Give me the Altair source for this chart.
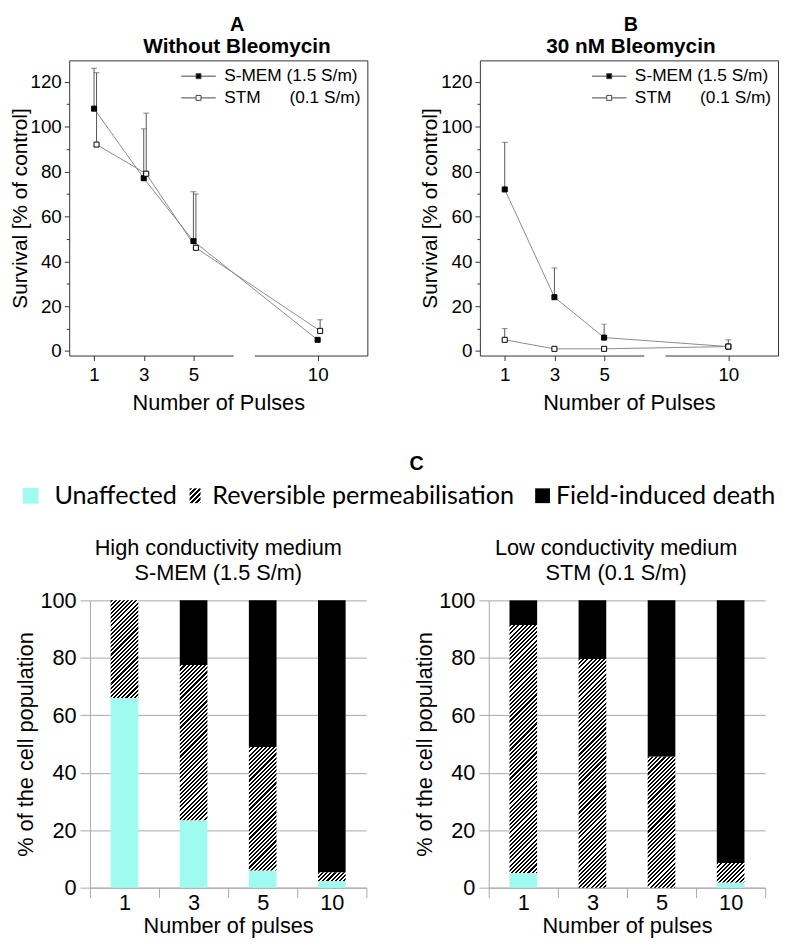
import altair as alt
import pandas as pd

# ---------------- data ----------------
pulses = [1, 3, 5, 10]
series_names = ["S-MEM (1.5 S/m)", "STM (0.1 S/m)"]

# Panel A: without bleomycin (mean survival, upper end of error bar)
a_smem = [108, 77, 49, 5]
a_smem_hi = [126, 99, 71, 5]
a_stm = [92, 79, 46, 9]
a_stm_hi = [124, 106, 70, 14]

# Panel B: 30 nM bleomycin
b_smem = [72, 24, 6, 2]
b_smem_hi = [93, 37, 12, 2]
b_stm = [5, 1, 1, 2]
b_stm_hi = [10, 1, 1, 5]

# Panel C: % of the cell population
pulse_labels = ["1", "3", "5", "10"]
states = ["Unaffected", "Reversible permeabilisation", "Field-induced death"]
smem_unaffected = [66, 23.5, 6, 2.3]
smem_reversible = [34, 54, 43, 3]
smem_death = [0, 22.5, 51, 94.7]
stm_unaffected = [5.1, 0, 0, 1.8]
stm_reversible = [86.3, 79.6, 45.6, 6.8]
stm_death = [8.6, 20.4, 54.4, 91.4]

# ---------------- style ----------------
ARIAL = "Liberation Sans"
CAL = "Lato"
FRAME = "#333333"
LINE = "#8a8a8a"
CYAN = "#9ffaef"
GRID = "#a8a8a8"
TOP_W, TOP_H = 302, 299
BOT_W, BOT_H = 280, 291
BAR_W = 28
STM_SHIFT_A = 0.1          # small horizontal offset of STM points in panel A
AXIS_BREAK = (6.62, 7.47)  # visual break of the bottom axis line
SYMBOL = "M-1,0H-0.15M0.15,0H1M-0.143,-0.143H0.143V0.143H-0.143Z"


def hatch(w, h, period=4.2, frac=0.5):
    """Diagonal '/' hatch as a hard-stop linear gradient for a w x h rect."""
    w = max(w, 1.0)
    h = max(h, 1.0)
    k = (w + h) / (w * w + h * h)
    n = (w + h) / period
    stops = []
    i = 0
    while i < n:
        a = round(i / n, 5)
        b = round(min((i + frac) / n, 1.0), 5)
        c = round(min((i + 1) / n, 1.0), 5)
        stops += [alt.GradientStop(offset=a, color="black"),
                  alt.GradientStop(offset=b, color="black"),
                  alt.GradientStop(offset=b, color="white"),
                  alt.GradientStop(offset=c, color="white")]
        i += 1
    return alt.LinearGradient(gradient="linear", x1=0, y1=0,
                              x2=round(k * w, 5), y2=round(k * h, 5), stops=stops)


def survival_panel(smem, smem_hi, stm, stm_hi, letter, subtitle, shift, title_dx):
    df = pd.DataFrame({
        "pulses": pulses + pulses,
        "series": [series_names[0]] * 4 + [series_names[1]] * 4,
        "survival": smem + stm,
        "upper": smem_hi + stm_hi,
    })
    base = alt.Chart(df).transform_calculate(
        xpos=f"datum.pulses + (datum.series === '{series_names[1]}' ? {shift} : 0)"
    )
    xs = alt.Scale(domain=[0, 12], nice=False, zero=False)
    ys = alt.Scale(domain=[-2, 129.5], nice=False, zero=False)
    x_axis = alt.Axis(values=pulses, title="Number of Pulses", domain=False, grid=False,
                      tickSize=5, tickColor=FRAME, labelFont=ARIAL, labelFontSize=19,
                      labelColor="black", labelPadding=5, titleFont=ARIAL, titleFontSize=22,
                      titleFontWeight="normal", titleColor="black", titlePadding=9)
    y_axis = alt.Axis(values=list(range(0, 121, 10)),
                      labelExpr="datum.value % 20 === 0 ? datum.label : ''",
                      tickSize={"condition": {"test": "datum.value % 20 === 0", "value": 5}, "value": 3},
                      domain=False, grid=False, tickColor=FRAME, labelFont=ARIAL,
                      labelFontSize=19, labelColor="black", labelPadding=3,
                      title="Survival [% of control]", titleFont=ARIAL, titleFontSize=21,
                      titleFontWeight="normal", titleColor="black", titlePadding=0)
    x = alt.X("xpos:Q", scale=xs, axis=x_axis)
    y = alt.Y("survival:Q", scale=ys, axis=y_axis)

    brk = alt.Chart(pd.DataFrame({"b0": [AXIS_BREAK[0]], "b1": [AXIS_BREAK[1]]})).mark_rule(
        color="white", strokeWidth=3
    ).encode(x=alt.X("b0:Q", scale=xs, axis=x_axis), x2="b1:Q", y=alt.value(TOP_H))

    lines = base.mark_line(color=LINE, strokeWidth=1).encode(x=x, y=y, detail="series:N")
    err = base.mark_rule(color="#555555", strokeWidth=1).encode(x=x, y=y, y2="upper:Q")
    caps = base.mark_tick(orient="horizontal", size=6, thickness=1, color="#555555").encode(
        x=x, y=alt.Y("upper:Q", scale=ys, axis=y_axis))
    pts = base.mark_point(shape="square", size=26, filled=True, stroke="black",
                          strokeWidth=1, opacity=1).encode(
        x=x, y=y,
        fill=alt.Fill("series:N", scale=alt.Scale(domain=series_names, range=["black", "white"]),
                      legend=alt.Legend(
                          title=None, orient="top-right", offset=6, symbolType=SYMBOL,
                          symbolSize=1225, symbolStrokeWidth=1, symbolStrokeColor="#444444",
                          clipHeight=20, rowPadding=2, labelOffset=8, labelFont=ARIAL,
                          labelFontSize=17.5, labelColor="black",
                          labelExpr=("datum.label === 'STM (0.1 S/m)' ? "
                                     "'STM\u00a0\u00a0\u00a0\u00a0\u00a0\u00a0(0.1 S/m)' : datum.label"))))
    return alt.layer(brk, lines, err, caps, pts).properties(
        width=TOP_W, height=TOP_H,
        view=alt.ViewBackground(stroke=FRAME, strokeWidth=1),
        title=alt.Title(letter, subtitle=subtitle, font=ARIAL, fontSize=20, fontWeight="bold",
                        color="black", subtitleFont=ARIAL, subtitleFontSize=21,
                        subtitleFontWeight="bold", subtitleColor="black", anchor="middle",
                        dx=title_dx, offset=3, subtitlePadding=2),
    )


def population_panel(unaff, rev, death, title_lines, title_dx):
    df = pd.DataFrame({
        "pulses": pulse_labels * 3,
        "state": [states[0]] * 4 + [states[1]] * 4 + [states[2]] * 4,
        "order": [0] * 4 + [1] * 4 + [2] * 4,
        "pct": unaff + rev + death,
    })
    base = alt.Chart(df).transform_stack(
        stack="pct", groupby=["pulses"], as_=["y0", "y1"],
        sort=[alt.SortField("order", order="ascending")])
    x_axis = alt.Axis(title="Number of pulses", labelAngle=0, tickBand="extent", tickSize=10,
                      tickColor=GRID, domainColor=GRID, grid=False, labelFont=ARIAL,
                      labelFontSize=22, labelColor="black", labelPadding=-5, titleFont=ARIAL,
                      titleFontSize=22, titleFontWeight="normal", titleColor="black",
                      titlePadding=2)
    y_axis = alt.Axis(values=[0, 20, 40, 60, 80, 100], title="% of the cell population",
                      tickSize=10, tickColor=GRID, domainColor=GRID, grid=True, gridColor=GRID,
                      labelFont=ARIAL, labelFontSize=22, labelColor="black", labelPadding=4,
                      titleFont=ARIAL, titleFontSize=22, titleFontWeight="normal",
                      titleColor="black", titlePadding=2)
    x = alt.X("pulses:N", sort=pulse_labels,
              scale=alt.Scale(paddingInner=0, paddingOuter=0), axis=x_axis)
    y = alt.Y("y0:Q", scale=alt.Scale(domain=[0, 100], nice=False), axis=y_axis)
    solid = base.transform_filter(alt.datum.state != states[1]).mark_bar(size=BAR_W).encode(
        x=x, y=y, y2="y1:Q",
        color=alt.Color("state:N", scale=alt.Scale(domain=[states[0], states[2]],
                                                    range=[CYAN, "black"]), legend=None))
    layers = [solid]
    for p, v in zip(pulse_labels, rev):
        layers.append(
            base.transform_filter((alt.datum.state == states[1]) & (alt.datum.pulses == p))
            .mark_bar(size=BAR_W, fill=hatch(BAR_W, v / 100.0 * BOT_H))
            .encode(x=x, y=y, y2="y1:Q"))
    return alt.layer(*layers).properties(
        width=BOT_W, height=BOT_H,
        title=alt.Title(title_lines, font=ARIAL, fontSize=22, fontWeight="normal",
                        color="black", anchor="middle", dx=title_dx, offset=5, lineHeight=25),
    )


# ---------------- legend row (panel C) ----------------
# positions are pixels relative to this row's view, whose left edge lines up
# with the left edge of panel A's plot area
LEG_W, LEG_H = 700, 124
leg_df = pd.DataFrame({"state": states})
leg_box = [(-47, -31), (122, 133), (472, 487)]
leg_text_x = [-15, 145, 493]
leg_cy = 82
leg_half = [8, 7.5, 7.5]
leg_fill = [CYAN, hatch(11, 15, period=5.0), "black"]
leg_layers = []
for s, (x0, x1), tx, f, hh in zip(states, leg_box, leg_text_x, leg_fill, leg_half):
    sub = alt.Chart(leg_df).transform_filter(alt.datum.state == s)
    leg_layers.append(sub.mark_rect(fill=f).encode(
        x=alt.value(x0), x2=alt.value(x1), y=alt.value(leg_cy - hh), y2=alt.value(leg_cy + hh)))
    leg_layers.append(sub.mark_text(align="left", baseline="middle", font=CAL, fontSize=25.5,
                                    color="black").encode(
        text="state:N", x=alt.value(tx), y=alt.value(leg_cy)))
leg_layers.append(alt.Chart(pd.DataFrame({"panel": ["C"]})).mark_text(
    align="center", baseline="middle", font=ARIAL, fontSize=20, fontWeight="bold",
    color="black").encode(text="panel:N", x=alt.value(352), y=alt.value(50)))
legend_row = alt.layer(*leg_layers).properties(width=LEG_W, height=LEG_H)

spacer = alt.Chart(pd.DataFrame({"s": [0]})).mark_rule(opacity=0, strokeWidth=0).encode(
    x=alt.value(0), y=alt.value(0), y2=alt.value(1)).properties(width=1, height=1)

panel_a = survival_panel(a_smem, a_smem_hi, a_stm, a_stm_hi, "A", "Without Bleomycin",
                         STM_SHIFT_A, 19)
panel_b = survival_panel(b_smem, b_smem_hi, b_stm, b_stm_hi, "B", "30 nM Bleomycin", 0, 2)
top_row = alt.hconcat(panel_a, panel_b, spacing=51).resolve_scale(fill="independent")

panel_c1 = population_panel(smem_unaffected, smem_reversible, smem_death,
                            ["High conductivity medium", "S-MEM (1.5 S/m)"], -10)
panel_c2 = population_panel(stm_unaffected, stm_reversible, stm_death,
                            ["Low conductivity medium", "STM (0.1 S/m)"], -11)
bottom_pair = alt.hconcat(panel_c1, panel_c2, spacing=47)
# the spacer fixes the row's reference edge; the negative gap puts the plot
# of the first bar panel 22 px to the right of panel A's plot edge
bottom_row = alt.hconcat(spacer, bottom_pair, spacing=-56)

chart = alt.vconcat(top_row, legend_row, bottom_row, spacing=0).configure(
    padding=0, background="white", font=ARIAL
).configure_view(stroke=None)

chart.save("out.html", embed_options={"renderer": "svg", "actions": False})
